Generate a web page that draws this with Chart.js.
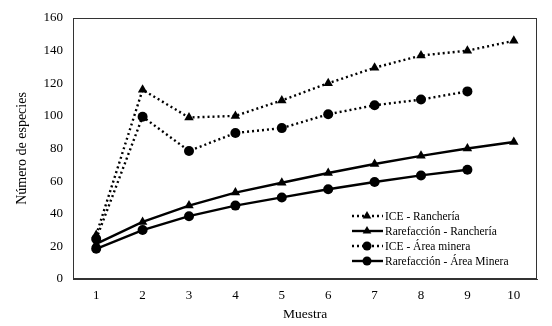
<!DOCTYPE html>
<html>
<head>
<meta charset="utf-8">
<script src="https://cdn.jsdelivr.net/npm/chart.js@4.4.0/dist/chart.umd.min.js"></script>
<style>
  html, body { margin: 0; padding: 0; background: #fff; }
  #wrap { width: 552px; height: 326px; }
</style>
</head>
<body>
<div id="wrap"><canvas id="myChart"></canvas></div>
<script>
// data
var muestras = ["1", "2", "3", "4", "5", "6", "7", "8", "9", "10"];
var iceRancheria = [27, 116, 99, 100, 109.5, 120, 129.5, 137, 140, 146];
var rarRancheria = [21.5, 35, 45, 53, 59, 65, 70.5, 75.5, 80, 84];
var iceMinera = [24.5, 99.5, 78.5, 89.5, 92.5, 101, 106.5, 110, 115];
var rarMinera = [18.5, 30, 38.5, 45, 50, 55, 59.5, 63.5, 67];
var yTicks = [0, 20, 40, 60, 80, 100, 120, 140, 160];

var serif = "'Liberation Serif', 'DejaVu Serif', serif";
Chart.defaults.font.family = serif;
Chart.defaults.color = "#000";

function serie(label, values, dotted, marker) {
  return {
    label: label,
    data: values,
    borderColor: "#000",
    backgroundColor: "#000",
    borderWidth: 2.4,
    borderDash: dotted ? [2, 3] : [],
    pointStyle: marker,
    pointRadius: marker == "triangle" ? 5.5 : 5,
    pointBorderWidth: 0,
    tension: 0,
    fill: false,
    dotted: dotted
  };
}

// legend drawn inside the plot, line sample + marker like the original
var boxLegend = {
  id: "boxLegend",
  afterDraw: function (chart) {
    var ctx = chart.ctx;
    var x0 = 352, y0 = 216, step = 15;
    ctx.save();
    chart.data.datasets.forEach(function (ds, i) {
      var y = y0 + i * step;
      ctx.strokeStyle = "#000";
      ctx.lineWidth = 2.4;
      ctx.setLineDash(ds.dotted ? [2, 3] : []);
      ctx.beginPath();
      ctx.moveTo(x0, y);
      ctx.lineTo(x0 + 31, y);
      ctx.stroke();
      ctx.setLineDash([]);
      Chart.helpers.drawPoint(ctx, {
        pointStyle: ds.pointStyle, radius: ds.pointRadius - 0.5, borderWidth: 0
      }, x0 + 15, y);
      ctx.fillStyle = "#000";
      ctx.font = "11.5px " + serif;
      ctx.textBaseline = "middle";
      ctx.fillText(ds.label, x0 + 33, y + 0.5);
    });
    ctx.restore();
  }
};

var chart = new Chart(document.getElementById("myChart"), {
  type: "line",
  data: {
    labels: muestras,
    datasets: [
      serie("ICE - Ranchería", iceRancheria, true, "triangle"),
      serie("Rarefacción - Ranchería", rarRancheria, false, "triangle"),
      serie("ICE - Área minera", iceMinera, true, "circle"),
      serie("Rarefacción - Área Minera", rarMinera, false, "circle")
    ]
  },
  options: {
    responsive: true,
    maintainAspectRatio: false,
    animation: false,
    layout: { padding: { top: 18, right: 15, left: 0, bottom: 3 } },
    plugins: {
      legend: { display: false },
      tooltip: { enabled: false }
    },
    scales: {
      x: {
        offset: true,
        grid: { display: false, drawTicks: false },
        border: { display: true, color: "#333", width: 1 },
        ticks: { font: { size: 13 }, padding: 9 },
        title: { display: true, text: "Muestra", font: { size: 13.5 }, padding: { top: 1, bottom: 0 } },
        afterFit: function (s) { s.height = 44; }
      },
      y: {
        min: 0,
        max: 160,
        afterBuildTicks: function (s) { s.ticks = yTicks.map(function (v) { return { value: v }; }); },
        grid: { display: false, drawTicks: false },
        border: { display: true, color: "#333", width: 1 },
        ticks: { font: { size: 13 }, padding: 10 },
        title: { display: true, text: "Número de especies", font: { size: 14 }, padding: { top: 14, bottom: 0 } },
        afterFit: function (s) { s.width = 73; }
      }
    }
  },
  plugins: [boxLegend, {
    id: "frame",
    afterDraw: function (c) {
      var a = c.chartArea, ctx = c.ctx;
      ctx.save();
      ctx.strokeStyle = "#333";
      ctx.lineWidth = 1;
      ctx.strokeRect(a.left + 0.5, a.top + 0.5, a.right - a.left - 1, a.bottom - a.top - 1);
      ctx.restore();
    }
  }]
});
</script>
</body>
</html>
